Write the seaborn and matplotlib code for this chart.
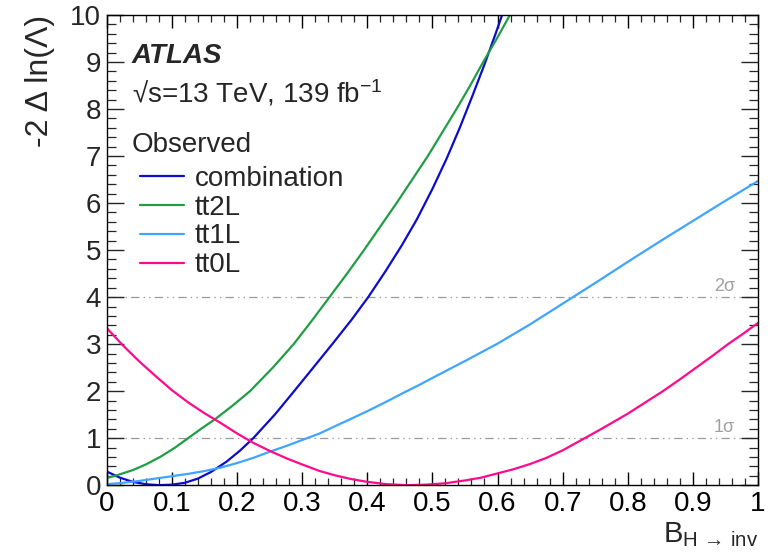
import numpy as np
import pandas as pd
import seaborn as sns
import matplotlib
matplotlib.use("Agg")
import matplotlib.pyplot as plt
from matplotlib.ticker import MultipleLocator, FuncFormatter

# ---- data ----
comb_x = [0.0, 0.02, 0.04, 0.06, 0.08, 0.10, 0.12, 0.14, 0.16, 0.184, 0.205, 0.225, 0.258, 0.286,
          0.32, 0.348, 0.376, 0.4015, 0.428, 0.453, 0.476, 0.5, 0.522, 0.542, 0.562, 0.58, 0.597, 0.607]
comb_y = [0.29, 0.16, 0.07, 0.02, 0.0, 0.01, 0.05, 0.14, 0.28, 0.5, 0.74, 1.0, 1.5, 1.97,
          2.55, 3.03, 3.52, 4.0, 4.55, 5.1, 5.65, 6.3, 6.95, 7.6, 8.3, 8.95, 9.6, 10.0]

tt2l_x = [0.0, 0.02, 0.04, 0.06, 0.082, 0.104, 0.125, 0.145, 0.166, 0.194, 0.22, 0.255, 0.287,
          0.315, 0.342, 0.369, 0.395, 0.42, 0.445, 0.469, 0.493, 0.515, 0.537, 0.558, 0.578, 0.599, 0.619]
tt2l_y = [0.15, 0.23, 0.32, 0.44, 0.6, 0.79, 1.0, 1.2, 1.4, 1.7, 2.0, 2.5, 3.0,
          3.5, 4.0, 4.5, 5.0, 5.5, 6.0, 6.5, 7.0, 7.5, 8.0, 8.5, 9.0, 9.5, 10.0]

tt1l_x = [0.0, 0.025, 0.05, 0.075, 0.1, 0.125, 0.15, 0.174, 0.2, 0.225, 0.25, 0.275, 0.3, 0.327,
          0.35, 0.375, 0.404, 0.43, 0.455, 0.481, 0.5, 0.55, 0.6, 0.65, 0.7, 0.75, 0.8, 0.85, 0.9, 0.95, 1.0]
tt1l_y = [0.02, 0.05, 0.09, 0.14, 0.19, 0.24, 0.30, 0.37, 0.47, 0.58, 0.71, 0.83, 0.96, 1.1,
          1.25, 1.41, 1.6, 1.78, 1.96, 2.14, 2.28, 2.64, 3.01, 3.42, 3.86, 4.3, 4.75, 5.19, 5.62, 6.05, 6.47]

tt0l_x = [0.0, 0.025, 0.05, 0.075, 0.1, 0.125, 0.15, 0.174, 0.2, 0.225, 0.25, 0.276, 0.3, 0.327,
          0.35, 0.375, 0.4, 0.43, 0.46, 0.49, 0.52, 0.55, 0.575, 0.6, 0.625, 0.65, 0.675, 0.7,
          0.734, 0.76, 0.8, 0.827, 0.854, 0.88, 0.905, 0.93, 0.954, 0.977, 1.0]
tt0l_y = [3.34, 2.97, 2.63, 2.32, 2.02, 1.76, 1.53, 1.33, 1.1, 0.9, 0.73, 0.57, 0.44, 0.3,
          0.21, 0.13, 0.07, 0.02, 0.0, 0.01, 0.04, 0.1, 0.16, 0.25, 0.34, 0.45, 0.58, 0.74,
          1.0, 1.2, 1.52, 1.76, 2.0, 2.25, 2.5, 2.75, 3.0, 3.22, 3.45]

series_names = ["combination", "tt2L", "tt1L", "tt0L"]
series_colors = ["#0c0ccc", "#1f9e45", "#3fa5ff", "#ff0a8c"]
sigma_levels = [1, 4]
sigma_labels = ["1\u03c3", "2\u03c3"]

frames = []
for name, xs, ys in zip(series_names,
                        [comb_x, tt2l_x, tt1l_x, tt0l_x],
                        [comb_y, tt2l_y, tt1l_y, tt0l_y]):
    frames.append(pd.DataFrame({"x": xs, "y": ys, "series": name}))
df = pd.concat(frames, ignore_index=True)

# ---- style ----
sns.set_theme(style="ticks")
plt.rcParams["font.family"] = ["Liberation Sans", "DejaVu Sans"]
plt.rcParams["mathtext.fontset"] = "custom"
plt.rcParams["mathtext.rm"] = "Liberation Sans"
plt.rcParams["mathtext.it"] = "Liberation Sans:italic"
plt.rcParams["mathtext.bf"] = "Liberation Sans:bold"
plt.rcParams["lines.scale_dashes"] = False
plt.rcParams["lines.solid_joinstyle"] = "round"

fig = plt.figure(figsize=(7.68, 5.57), dpi=100)
ax = fig.add_axes([0.139, 0.129, 0.848, 0.844])

for name, col in zip(series_names, series_colors):
    sub = df[df["series"] == name]
    sns.lineplot(data=sub, x="x", y="y", ax=ax, color=col, linewidth=1.6,
                 sort=False, estimator=None, label=name)

for lvl, lab in zip(sigma_levels, sigma_labels):
    ax.axhline(lvl, color="#9a9a9a", linewidth=0.9,
               linestyle=(0, (6, 3, 1, 3, 1, 3)), zorder=0)
    ax.text(0.965, lvl + 0.12, lab, color="#a0a0a0", fontsize=13,
            ha="right", va="baseline")

ax.set_xlim(0, 1)
ax.set_ylim(0, 10)

fmt = FuncFormatter(lambda v, p: "%g" % round(v, 3))
ax.xaxis.set_major_locator(MultipleLocator(0.1))
ax.xaxis.set_minor_locator(MultipleLocator(0.02))
ax.yaxis.set_major_locator(MultipleLocator(1))
ax.yaxis.set_minor_locator(MultipleLocator(0.2))
ax.xaxis.set_major_formatter(fmt)
ax.yaxis.set_major_formatter(fmt)

ax.tick_params(axis="x", which="major", direction="in", length=9.4, width=1.0,
               labelsize=20, pad=4, colors="black", top=True)
ax.tick_params(axis="x", which="minor", direction="in", length=5, width=0.9, top=True)
ax.tick_params(axis="y", which="major", direction="in", length=12, width=1.0,
               labelsize=20, pad=4, right=True)
ax.tick_params(axis="y", which="minor", direction="in", length=6.2, width=0.9, right=True)

for sp in ax.spines.values():
    sp.set_visible(True)
    sp.set_color("black")
    sp.set_linewidth(1.0)

ax.set_xlabel(r"B$_{\mathregular{H\,\rightarrow\,inv}}$", fontsize=21, loc="right")
ax.xaxis.set_label_coords(1.0, -0.075)
ax.xaxis.label.set_horizontalalignment("right")
ax.set_ylabel("-2 \u0394 ln(\u039b)", fontsize=23, loc="top")
ax.yaxis.set_label_coords(-0.08, 1.0)

ax.text(0.038, 0.898, "ATLAS", transform=ax.transAxes, fontsize=20,
        fontweight="bold", fontstyle="italic", va="baseline")
ax.text(0.038, 0.813, "\u221as=13 TeV, 139 fb$^{\\mathregular{-1}}$", transform=ax.transAxes,
        fontsize=20, va="baseline")
ax.text(0.038, 0.709, "Observed", transform=ax.transAxes, fontsize=20, va="baseline")

leg = ax.legend(loc="upper left", bbox_to_anchor=(0.051, 0.679), frameon=False,
                fontsize=20, handlelength=1.6, handletextpad=0.36,
                labelspacing=0.1, borderpad=0, borderaxespad=0)

fig.savefig("out.png", dpi=100)
